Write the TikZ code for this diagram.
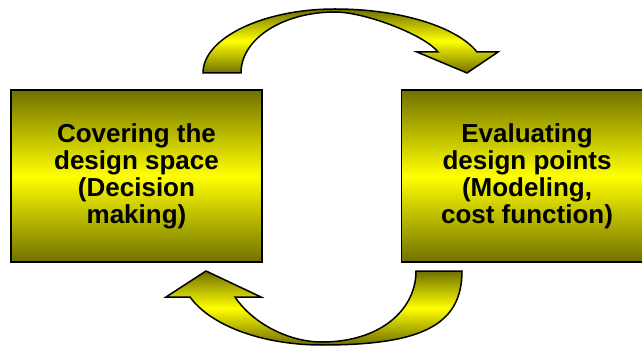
\documentclass[tikz,border=0pt]{standalone}
\usepackage{fontspec}
\setmainfont{Liberation Sans}
\usepackage{tikz}
\definecolor{darkolive}{RGB}{112,112,0}
\definecolor{brightyellow}{RGB}{255,255,0}
\tikzset{
	stagebox/.style={draw=black,line width=1.5pt,
		top color=darkolive,bottom color=darkolive,middle color=brightyellow,
		minimum width=251pt,minimum height=172pt,inner sep=0pt,align=center,
		font=\bfseries\fontsize{26}{27}\selectfont},
	arrowband/.style={draw=black,line width=1.5pt,
		top color=darkolive,bottom color=darkolive,middle color=brightyellow}
}

\begin{document}
\begin{tikzpicture}[x=1pt,y=-1pt]
	\clip (0,0) rectangle (642,347);

	\begin{scope}[every node/.style={stagebox}]
		\node (cover) at (136.5,176) {Covering the\\design space\\(Decision\\making)};
		\node (evaluate) at (527,176) {Evaluating\\design points\\(Modeling,\\cost function)};
	\end{scope}

	% upper arrow, cover -> evaluate
	\path[arrowband] (203,73) .. controls (203,38) and (263,9) .. (335,9)
		.. controls (401,9) and (457,27) .. (477,52)
		-- (498,52) -- (467,73) -- (417,52) -- (438,52)
		.. controls (425,35) and (365,12) .. (335,12)
		.. controls (284,12) and (241,38) .. (241,73) -- cycle;

	% lower arrow, evaluate -> cover
	\path[arrowband] (462,271) .. controls (462,326) and (420,345) .. (322,345)
		.. controls (263,345) and (211,326) .. (190,297)
		-- (166,297) -- (206,271) -- (261,297) -- (235,297)
		.. controls (250,320) and (285,342) .. (322,342)
		.. controls (380,342) and (416,310) .. (416,271) -- cycle;
\end{tikzpicture}
\end{document}
